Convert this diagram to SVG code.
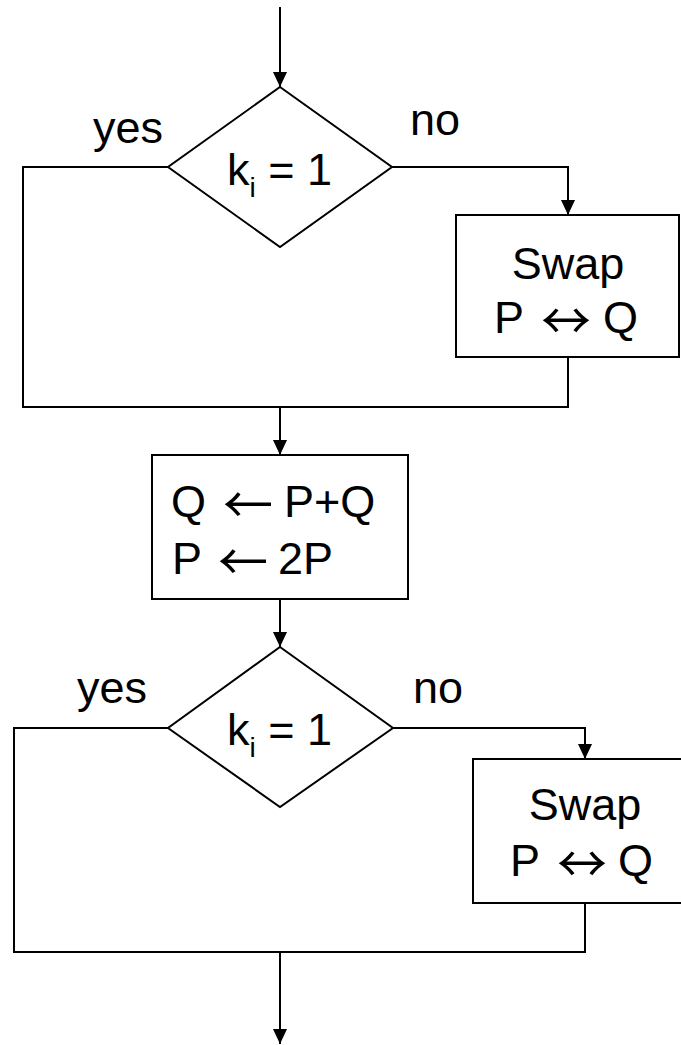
<svg xmlns="http://www.w3.org/2000/svg" width="681" height="1045" viewBox="0 0 681 1045">
  <style>
    .shape { fill: #ffffff; stroke: #000000; stroke-width: 2; }
    .wire { fill: none; stroke: #000000; stroke-width: 2; }
    .lbl { font-family: "Liberation Sans", Arial, sans-serif; font-size: 45px; fill: #000000; }
    .mid { text-anchor: middle; }
    .sym { font-family: "Noto Sans CJK JP", "DejaVu Sans", sans-serif; font-size: 50px; text-anchor: middle; }
  </style>
  <defs>
    <marker id="arrow" markerUnits="userSpaceOnUse" markerWidth="16" markerHeight="15" refX="15" refY="7" orient="auto">
      <path d="M0,0 L15,7 L0,14 z" fill="#000000"/>
    </marker>
  </defs>

  <!-- connectors -->
  <g id="connectors">
    <path class="wire" d="M280,7 L280,87" marker-end="url(#arrow)"/>
    <path class="wire" d="M168,167 L23,167 L23,407 L280,407"/>
    <path class="wire" d="M392,167 L568,167 L568,215" marker-end="url(#arrow)"/>
    <path class="wire" d="M568,357 L568,407 L280,407"/>
    <path class="wire" d="M280,407 L280,455" marker-end="url(#arrow)"/>
    <path class="wire" d="M280,599 L280,647" marker-end="url(#arrow)"/>
    <path class="wire" d="M168,728 L14,728 L14,952 L280,952"/>
    <path class="wire" d="M393,728 L585,728 L585,759" marker-end="url(#arrow)"/>
    <path class="wire" d="M585,903 L585,952 L280,952"/>
    <path class="wire" d="M280,952 L280,1044" marker-end="url(#arrow)"/>
  </g>

  <!-- branch labels -->
  <g id="labels">
    <text class="lbl" x="93" y="143">yes</text>
    <text class="lbl" x="410" y="135">no</text>
    <text class="lbl" x="77" y="703">yes</text>
    <text class="lbl" x="413" y="703">no</text>
  </g>

  <!-- first decision -->
  <g id="decision1">
    <polygon class="shape" points="280,87 392,167 280,247 168,167"/>
    <text class="lbl" x="227" y="185">k<tspan font-size="28" dy="12">i</tspan><tspan dy="-12"> = 1</tspan></text>
  </g>

  <!-- first swap -->
  <g id="swap1">
    <rect class="shape" x="456" y="215" width="223" height="142"/>
    <text class="lbl mid" x="568" y="279">Swap</text>
    <text class="lbl" y="333"><tspan x="494">P</tspan><tspan class="sym" x="566" dy="6">↔</tspan><tspan x="603" dy="-6">Q</tspan></text>
  </g>

  <!-- ladder step -->
  <g id="step">
    <rect class="shape" x="152" y="455" width="256" height="144"/>
    <text class="lbl" y="517"><tspan x="171">Q</tspan><tspan class="sym" x="248" dy="6">←</tspan><tspan x="284" dy="-6">P+Q</tspan></text>
    <text class="lbl" y="574"><tspan x="172">P</tspan><tspan class="sym" x="243" dy="6">←</tspan><tspan x="278" dy="-6">2P</tspan></text>
  </g>

  <!-- second decision -->
  <g id="decision2">
    <polygon class="shape" points="280,647 393,728 280,807 168,728"/>
    <text class="lbl" x="227" y="745">k<tspan font-size="28" dy="12">i</tspan><tspan dy="-12"> = 1</tspan></text>
  </g>

  <!-- second swap -->
  <g id="swap2">
    <rect class="shape" x="473" y="759" width="223" height="144"/>
    <text class="lbl mid" x="585" y="820">Swap</text>
    <text class="lbl" y="876"><tspan x="510">P</tspan><tspan class="sym" x="582" dy="6">↔</tspan><tspan x="618" dy="-6">Q</tspan></text>
  </g>
</svg>
